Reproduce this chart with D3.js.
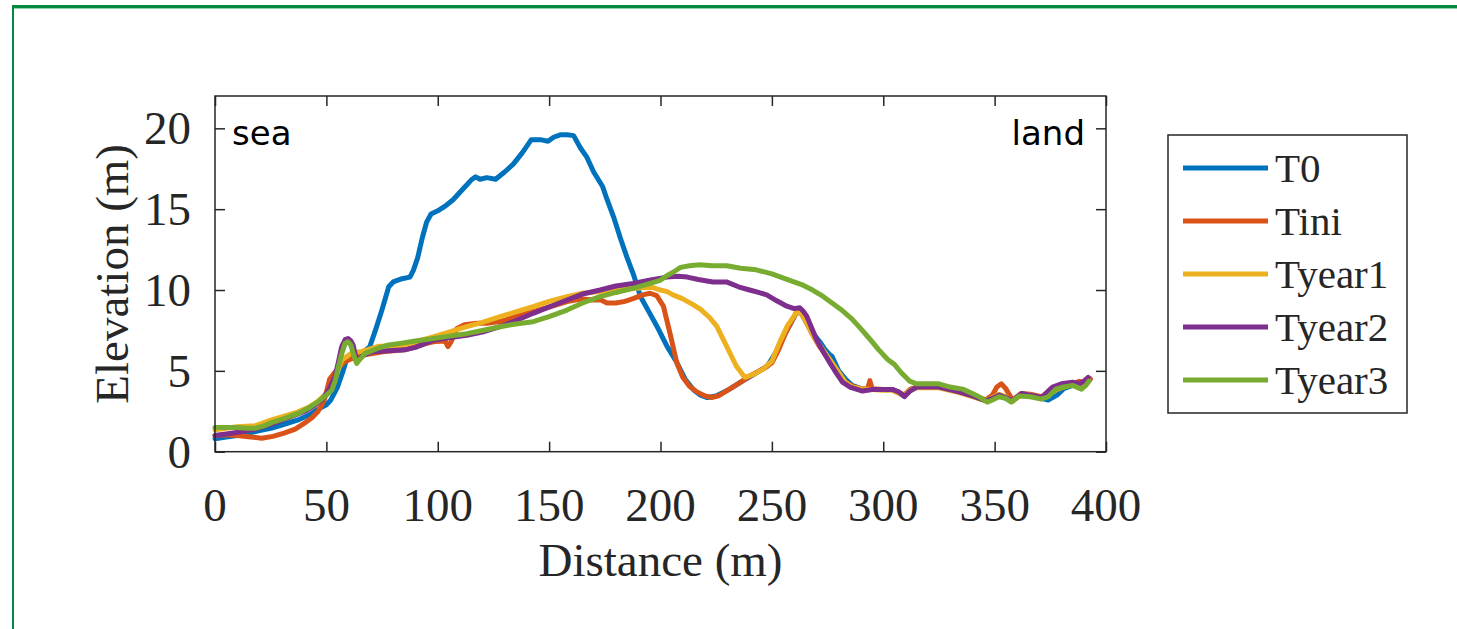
<!DOCTYPE html>
<html>
<head>
<meta charset="utf-8">
<script src="https://cdnjs.cloudflare.com/ajax/libs/d3/7.8.5/d3.min.js"></script>
<style>
  html, body { margin: 0; padding: 0; background: #fff; }
  svg text { fill: #262626; }
  .serif { font-family: "Liberation Serif", "Times New Roman", serif; }
  .sans { font-family: "DejaVu Sans", Verdana, sans-serif; fill: #000; }
</style>
</head>
<body>
<svg id="svg" width="1457" height="629"></svg>
<script>
// ---- data: [distance (m), elevation (m)] ----
const seriesNames = ['T0', 'Tini', 'Tyear1', 'Tyear2', 'Tyear3'];
const seriesColors = ['#0072BD', '#D95319', '#EDB120', '#7E2F8E', '#77AC30'];

const t0 = [[0,0.8],[5,0.9],[10,1.0],[20,1.3],[25,1.45],[30,1.65],[37,1.95],[42,2.25],[46,2.6],[50,2.9],[52,3.2],[55,4.0],
  [57.5,5.0],[59.5,5.9],[62,6.1],[66,6.1],[69.5,6.5],[72,7.5],[75,8.8],[78,10.2],[80,10.5],[84,10.7],[87.5,10.8],[89,11.2],
  [91,12.0],[93,13.2],[95,14.2],[97,14.7],[100,14.9],[103.5,15.2],[107,15.6],[111,16.2],[115,16.8],[117,17.0],[119,16.85],
  [122,16.95],[126,16.85],[130,17.3],[134,17.8],[138,18.5],[142,19.3],[146,19.3],[149.5,19.2],[152,19.45],[155,19.6],
  [158,19.6],[161,19.55],[164,18.8],[167,18.2],[170,17.3],[174,16.4],[176,15.6],[179,14.5],[182,13.2],[185,12.0],[188,10.9],
  [191,9.6],[195,8.6],[199,7.6],[203,6.5],[207,5.6],[211,4.5],[215,3.8],[218,3.5],[221,3.35],[225,3.45],[231,3.87],[236,4.3],
  [241,4.7],[248,5.3],[252,6.2],[256,7.3],[261,8.6],[263,8.6],[265.5,8.0],[268,7.4],[271.5,6.8],[274,6.3],[276,6.0],[277,5.9],
  [280,5.0],[283,4.5],[286,4.1],[290,3.9],[295,3.85],[300,3.85],[304,3.85],[309.5,3.45],[312,3.8],[315,4.0],[320,4.0],
  [325,4.0],[330,3.85],[334,3.7],[340,3.45],[346,3.15],[350,3.35],[352,3.5],[355,3.3],[358,3.15],[362,3.55],[366,3.45],
  [371,3.3],[374,3.2],[378,3.5],[381,3.9],[385,4.1],[389,4.1],[392,4.4]];

const tini = [[0,1.0],[5,1.05],[10,1.0],[15,0.93],[21,0.83],[26,0.95],[31,1.15],[36,1.4],[40,1.75],[43.5,2.1],[46,2.45],
  [48,2.9],[49.5,3.4],[51.5,4.5],[54,4.95],[58,5.55],[62,5.8],[66,5.98],[70,6.05],[76,6.2],[80,6.25],[85,6.3],[90,6.5],
  [95,6.7],[98,6.8],[102,6.85],[103.5,6.8],[104.6,6.5],[106,6.8],[108.5,7.6],[112,7.85],[117.5,7.95],[122,7.95],[128,8.05],
  [135,8.35],[142.8,8.66],[150,8.95],[158,9.28],[165,9.45],[170,9.38],[173,9.4],[176,9.2],[180,9.2],[184,9.3],[188,9.48],
  [192,9.7],[195.3,9.8],[198.3,9.65],[201.3,9.0],[204.3,7.3],[207.3,5.5],[210,4.6],[213,4.05],[216.3,3.7],[220,3.45],
  [223,3.35],[226,3.45],[231,3.87],[236,4.3],[241,4.75],[247,5.2],[250,5.5],[253,6.3],[256,7.3],[259,8.1],[261,8.6],
  [263,8.65],[265.5,8.0],[268,7.3],[271,6.6],[274,6.0],[276,5.6],[280,4.8],[283,4.3],[287,4.0],[290,3.9],[293,3.9],
  [294,4.4],[295,3.9],[300,3.85],[304,3.85],[309.5,3.5],[312,3.85],[315,4.0],[325,4.0],[334,3.75],[340,3.5],[346,3.2],
  [349,3.5],[351,4.0],[353,4.2],[355,3.9],[358,3.2],[362,3.6],[366,3.55],[371,3.4],[374,3.6],[378,3.85],[385,4.2],
  [388,4.35],[391,4.3],[393,4.5]];

const tyear1 = [[0,1.35],[5,1.45],[10,1.55],[18,1.6],[25,1.95],[30,2.15],[37,2.45],[42,2.75],[46,3.1],[50,3.6],[52.4,4.0],
  [55,5.0],[57,5.67],[61.4,6.1],[66,6.2],[73,6.5],[78,6.55],[83,6.55],[90,6.8],[98,7.1],[105,7.4],[113,7.73],[120,8.0],
  [128,8.35],[135,8.65],[142.8,8.97],[150,9.3],[158,9.59],[165,9.8],[172.9,9.9],[180,10.0],[187.7,10.1],[193,10.15],
  [196.6,10.15],[200,10.0],[203,9.9],[205.6,9.7],[210,9.45],[214.6,9.1],[218,8.8],[222,8.3],[225.3,7.75],[228,7.0],
  [231,6.15],[234,5.3],[237.8,4.6],[242,4.8],[246,5.1],[250,5.6],[253.5,6.76],[257,7.8],[261,8.6],[263,8.6],[265.5,8.0],
  [268,7.3],[271,6.7],[274,6.1],[277,5.5],[280,4.9],[283,4.3],[286,4.0],[290,3.9],[295,3.85],[300,3.8],[304,3.8],
  [309.5,3.45],[312,3.8],[315,3.95],[325,3.95],[334,3.65],[340,3.4],[346,3.15],[350,3.4],[352,3.55],[355,3.4],[358,3.1],
  [362,3.55],[366,3.5],[371,3.3],[375,3.6],[378,3.85],[385,4.2],[389,4.2],[392,4.45]];

const tyear2 = [[0,1.0],[5,1.1],[10.4,1.2],[18,1.4],[25.4,1.7],[33,2.1],[40.4,2.5],[44,2.8],[47.9,3.2],[51,3.8],[53.9,4.64],
  [55.5,5.6],[56.9,6.5],[58.5,6.95],[59.7,7.0],[61,6.85],[62,6.6],[63,6.0],[63.6,5.57],[65.9,5.9],[70.4,6.18],[78,6.25],
  [85.3,6.3],[90,6.45],[98,6.9],[105,7.05],[113,7.2],[120,7.4],[128,7.73],[135,8.1],[142.8,8.56],[150,8.95],[158,9.38],
  [165,9.75],[172.9,10.0],[180,10.25],[187.7,10.4],[195,10.6],[202.8,10.8],[208,10.85],[212,10.8],[217,10.65],[223.5,10.5],
  [229.6,10.5],[235,10.2],[240,10.0],[244,9.85],[247.7,9.7],[252,9.35],[256.7,9.0],[260,8.85],[262.5,8.9],[264,8.7],
  [265.6,8.4],[268,7.6],[270,6.95],[273,6.2],[276,5.5],[279,4.85],[281.7,4.3],[285,4.0],[290.7,3.75],[295,3.85],[300,3.85],
  [304,3.85],[307,3.7],[309.5,3.4],[312,3.75],[315,4.0],[325,4.0],[334,3.7],[340,3.45],[346,3.15],[350,3.35],[352,3.5],
  [355,3.35],[358,3.15],[362,3.6],[366,3.5],[371,3.35],[376,4.0],[380,4.2],[385,4.3],[388,4.2],[390,4.35],[392,4.6]];

const tyear3 = [[0,1.5],[5,1.5],[10,1.5],[14,1.45],[18,1.45],[22,1.6],[25.4,1.8],[31,2.05],[37.4,2.37],[42,2.7],[46.3,3.09],
  [50,3.5],[52.4,3.8],[54,4.4],[55.4,5.26],[57,6.1],[58.4,6.7],[59.7,6.8],[61,6.6],[62,6.1],[63.6,5.46],[65,5.7],[67.4,6.08],
  [73.2,6.4],[78,6.6],[83,6.7],[90,6.85],[98,7.0],[105,7.15],[113,7.3],[120,7.5],[128,7.73],[135,7.9],[142.8,8.04],
  [150,8.35],[158,8.76],[165,9.2],[172.9,9.59],[180,9.85],[187.7,10.1],[195,10.4],[199.8,10.6],[203,10.9],[205.7,11.1],
  [209,11.4],[213,11.5],[217.7,11.56],[223,11.5],[229.8,11.5],[236,11.35],[243,11.25],[250,11.0],[258,10.6],[264,10.3],
  [268.3,10.0],[273,9.6],[277,9.2],[281,8.8],[286,8.2],[290,7.6],[295,6.8],[298,6.3],[302,5.7],[305,5.4],[308,4.9],
  [311.8,4.37],[315,4.2],[320,4.2],[325,4.2],[330,4.0],[335.7,3.87],[340,3.6],[343,3.4],[346.7,3.07],[349,3.2],[352,3.4],
  [355,3.3],[357.5,3.07],[361,3.45],[366,3.4],[371,3.25],[374,3.4],[377.6,3.87],[381,4.0],[385,4.1],[389,3.87],[391,4.1],
  [392.4,4.37]];

const allSeries = [t0, tini, tyear1, tyear2, tyear3];
const xTicks = [0, 50, 100, 150, 200, 250, 300, 350, 400];
const yTicks = [0, 5, 10, 15, 20];

const svg = d3.select('#svg');

// ---- page frame (green rule top + left) ----
svg.append('rect').attr('x', 12).attr('y', 5).attr('width', 1445).attr('height', 3).attr('fill', '#00893f');
svg.append('rect').attr('x', 12).attr('y', 8).attr('width', 1445).attr('height', 1).attr('fill', '#8fd3ab');
svg.append('rect').attr('x', 12).attr('y', 5).attr('width', 2).attr('height', 624).attr('fill', '#00893f');

// ---- scales ----
const plotL = 215, plotR = 1106, plotT = 96, plotB = 451.7;
const x = d3.scaleLinear().domain([0, 400]).range([plotL, plotR]);
const y = d3.scaleLinear().domain([0, 22]).range([plotB, plotT]);

// ---- lines ----
const line = d3.line().x(d => x(d[0])).y(d => y(d[1]));
const plot = svg.append('g');
allSeries.forEach((s, i) => {
  plot.append('path')
    .datum(s)
    .attr('fill', 'none')
    .attr('stroke', seriesColors[i])
    .attr('stroke-width', 5)
    .attr('stroke-linejoin', 'round')
    .attr('stroke-linecap', 'round')
    .attr('d', line);
});

// ---- axes box with inward ticks (matlab style) ----
const tickLen = 10;
const axisCol = '#262626';
const xAxisB = d3.axisBottom(x).tickValues(xTicks).tickSize(-tickLen).tickFormat('');
const xAxisT = d3.axisTop(x).tickValues(xTicks).tickSize(-tickLen).tickFormat('');
const yAxisL = d3.axisLeft(y).tickValues(yTicks).tickSize(-tickLen).tickFormat('');
const yAxisR = d3.axisRight(y).tickValues(yTicks).tickSize(-tickLen).tickFormat('');

const styleAxis = g => {
  g.select('.domain').remove();
  g.selectAll('line').attr('stroke', axisCol).attr('stroke-width', 1.5);
};
svg.append('g').attr('transform', `translate(0,${plotB})`).call(xAxisB).call(styleAxis);
svg.append('g').attr('transform', `translate(0,${plotT})`).call(xAxisT).call(styleAxis);
svg.append('g').attr('transform', `translate(${plotL},0)`).call(yAxisL).call(styleAxis);
svg.append('g').attr('transform', `translate(${plotR},0)`).call(yAxisR).call(styleAxis);
svg.append('rect')
  .attr('x', plotL).attr('y', plotT)
  .attr('width', plotR - plotL).attr('height', plotB - plotT)
  .attr('fill', 'none').attr('stroke', axisCol).attr('stroke-width', 1.5);

// tick labels
svg.selectAll('.xlab').data(xTicks).enter().append('text')
  .attr('class', 'serif')
  .attr('x', d => x(d)).attr('y', plotB + 69)
  .attr('text-anchor', 'middle').attr('font-size', 47)
  .text(d => d);
svg.selectAll('.ylab').data(yTicks).enter().append('text')
  .attr('class', 'serif')
  .attr('x', plotL - 24).attr('y', d => y(d) + 16)
  .attr('text-anchor', 'end').attr('font-size', 47)
  .text(d => d);

// axis titles
svg.append('text').attr('class', 'serif')
  .attr('x', (plotL + plotR) / 2).attr('y', 576)
  .attr('text-anchor', 'middle').attr('font-size', 47)
  .text('Distance (m)');
svg.append('text').attr('class', 'serif')
  .attr('transform', `translate(128,${(plotT + plotB) / 2}) rotate(-90)`)
  .attr('text-anchor', 'middle').attr('font-size', 47)
  .text('Elevation (m)');

// sea / land
svg.append('text').attr('class', 'sans').attr('x', 232).attr('y', 145).attr('font-size', 34).text('sea');
svg.append('text').attr('class', 'sans').attr('x', 1085).attr('y', 145).attr('text-anchor', 'end').attr('font-size', 34).text('land');

// ---- legend ----
const legend = svg.append('g');
legend.append('rect')
  .attr('x', 1168).attr('y', 135).attr('width', 239).attr('height', 278)
  .attr('fill', '#fff').attr('stroke', axisCol).attr('stroke-width', 1.5);
const legRow = d3.scaleLinear().domain([0, 4]).range([168, 380]);
seriesNames.forEach((name, i) => {
  legend.append('line')
    .attr('x1', 1183).attr('x2', 1268)
    .attr('y1', legRow(i)).attr('y2', legRow(i))
    .attr('stroke', seriesColors[i]).attr('stroke-width', 5);
  legend.append('text').attr('class', 'serif')
    .attr('x', 1275).attr('y', legRow(i) + 14)
    .attr('font-size', 41)
    .text(name);
});
</script>
</body>
</html>
